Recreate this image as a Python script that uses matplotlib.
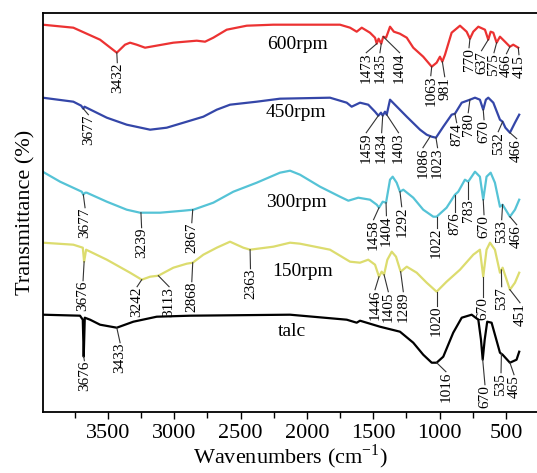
import numpy as np
import matplotlib
matplotlib.use("Agg")
import matplotlib.pyplot as plt

plt.rcParams['font.family'] = ['Liberation Serif', 'DejaVu Serif']
plt.rcParams['mathtext.fontset'] = 'custom'
plt.rcParams['mathtext.rm'] = 'Liberation Serif'

# ---- spectra (wavenumber, offset transmittance in arbitrary units) ----
w_600 = [3990, 3759, 3558, 3432, 3370, 3332, 3282, 3219, 3006, 2830, 2767, 2705, 2604, 2453, 2253,
         2127, 1751, 1675, 1625, 1587, 1525, 1487, 1474, 1460, 1440, 1425, 1404, 1390, 1374, 1345,
         1300, 1248, 1199, 1124, 1060, 1023, 998, 980, 960, 910, 847, 797, 772, 747, 709, 659,
         634, 616, 596, 571, 546, 508, 471, 446, 408]
t_600 = [387, 384, 372, 359, 367, 369, 367, 364, 369, 371, 370, 374, 382, 386, 387,
         387, 387, 384, 380, 384, 379, 374, 368, 373, 368, 375, 374, 379, 385, 380,
         378, 374, 364, 355, 345, 349, 355, 350, 357, 379, 386, 380, 373, 380, 385, 382,
         372, 380, 379, 369, 375, 370, 365, 367, 364]

w_450 = [3990, 3759, 3700, 3684, 3675, 3507, 3357, 3181, 3056, 2905, 2780, 2679, 2579, 2378, 2203,
         1826, 1700, 1663, 1600, 1538, 1487, 1462, 1442, 1429, 1412, 1399, 1374, 1337, 1248, 1148,
         1098, 1060, 1028, 973, 910, 885, 834, 772, 734, 697, 672, 652, 634, 596, 546, 526,
         505, 471, 433, 401]
t_450 = [314, 310, 306, 303, 305, 294, 287, 282, 284, 290, 295, 302, 307, 310, 313,
         314, 309, 305, 309, 307, 300, 296, 299, 296, 300, 297, 312, 307, 295, 282,
         277, 275, 274, 285, 297, 298, 309, 312, 314, 312, 302, 312, 314, 309, 292, 290,
         284, 279, 289, 297]

w_300 = [3990, 3859, 3696, 3684, 3670, 3658, 3507, 3357, 3257, 3106, 2931, 2855, 2705, 2554, 2378,
         2203, 2127, 2052, 1901, 1751, 1688, 1613, 1525, 1474, 1457, 1429, 1404, 1374, 1354, 1324,
         1299, 1274, 1199, 1124, 1048, 1023, 948, 885, 860, 810, 785, 734, 697, 672, 647, 616,
         584, 546, 526, 471, 433, 401]
t_300 = [240, 230, 220, 217, 219, 219, 210, 202, 199, 199, 201, 202, 209, 220, 229,
         239, 241, 237, 225, 215, 211, 214, 212, 207, 204, 210, 209, 232, 235, 229,
         220, 222, 214, 202, 195, 195, 204, 217, 220, 232, 230, 240, 235, 212, 235, 239,
         229, 205, 207, 195, 202, 212]

w_150 = [3990, 3759, 3688, 3678, 3663, 3507, 3332, 3244, 3181, 3119, 3006, 2905, 2860, 2780, 2679,
         2579, 2479, 2428, 2253, 2127, 2052, 1826, 1675, 1600, 1538, 1487, 1457, 1437, 1419, 1394,
         1361, 1329, 1294, 1248, 1173, 1098, 1023, 948, 847, 747, 697, 672, 647, 621, 584,
         546, 526, 471, 433, 401]
t_150 = [169, 167, 164, 150, 162, 152, 139, 132, 135, 136, 144, 148, 149, 157, 164,
         170, 164, 162, 165, 169, 168, 162, 150, 149, 152, 147, 135, 140, 137, 152,
         160, 155, 140, 145, 139, 129, 120, 130, 142, 157, 162, 135, 162, 169, 162,
         139, 144, 122, 129, 139]

w_talc = [3990, 3709, 3688, 3681, 3673, 3633, 3558, 3432, 3307, 3131, 2880, 2127, 1700, 1625, 1600,
          1450, 1299, 1199, 1124, 1060, 1023, 973, 898, 834, 759, 709, 689, 676, 661, 642,
          609, 546, 526, 471, 421, 401]
t_talc = [97, 96, 92, 55, 94, 92, 87, 84, 90, 95, 96, 97, 92, 89, 91,
          85, 80, 69, 57, 49, 49, 55, 79, 94, 97, 92, 72, 52, 72, 90,
          89, 59, 57, 49, 52, 60]

series_names = ['600rpm', '450rpm', '300rpm', '150rpm', 'talc']
series_w = [w_600, w_450, w_300, w_150, w_talc]
series_t = [t_600, t_450, t_300, t_150, t_talc]
series_colors = ['#ec3232', '#3446a8', '#55c3d6', '#dcdc6e', '#000000']
name_pos = [(2074, 367), (2081, 299), (2081, 209), (2029, 140), (2112, 80)]

# peak annotations: (text, peak wavenumber, text x, text top)
ann_600 = [('3432', 3432, 3428, 349), ('1473', 1474, 1553, 359), ('1435', 1440, 1450, 359),
           ('1404', 1425, 1302, 359), ('1063', 1060, 1067, 336), ('981', 980, 962, 335),
           ('770', 772, 779, 364), ('637', 634, 685, 361), ('575', 571, 591, 359),
           ('466', 471, 497, 358), ('415', 408, 403, 357)]
ann_450 = [('3677', 3684, 3646, 297), ('1459', 1462, 1553, 279), ('1434', 1429, 1437, 279),
           ('1403', 1399, 1310, 279), ('1086', 1070, 1126, 264), ('1023', 1028, 1016, 264),
           ('874', 885, 872, 289), ('780', 772, 785, 299), ('670', 672, 666, 292),
           ('532', 526, 559, 280), ('466', 471, 420, 273)]
ann_300 = [('3677', 3684, 3671, 204), ('3239', 3250, 3245, 184), ('2867', 2860, 2867, 189),
           ('1458', 1457, 1498, 192), ('1404', 1404, 1401, 196), ('1292', 1299, 1286, 205),
           ('1022', 1023, 1023, 184), ('876', 885, 885, 200), ('783', 785, 785, 213),
           ('670', 672, 666, 197), ('533', 526, 533, 192), ('466', 471, 420, 187)]
ann_150 = [('3676', 3678, 3686, 131), ('3242', 3244, 3279, 125), ('3113', 3119, 3038, 125),
           ('2868', 2860, 2867, 130), ('2363', 2428, 2425, 143), ('1446', 1457, 1487, 122),
           ('1405', 1419, 1387, 120), ('1289', 1294, 1274, 120), ('1020', 1023, 1023, 106),
           ('670', 672, 672, 115), ('537', 535, 533, 125), ('451', 471, 395, 109)]
ann_talc = [('3676', 3681, 3676, 51), ('3433', 3432, 3407, 69), ('1016', 1023, 953, 40),
            ('670', 676, 659, 27), ('535', 535, 538, 39), ('465', 471, 440, 37)]
series_ann = [ann_600, ann_450, ann_300, ann_150, ann_talc]

fig = plt.figure(figsize=(5.37, 4.73), dpi=100)
ax = fig.add_axes([0.0795, 0.1296, 1.0 - 0.0795, 0.9719 - 0.1296])

for name, ws, ts, col, npos, anns in zip(series_names, series_w, series_t, series_colors,
                                         name_pos, series_ann):
    ax.plot(ws, ts, color=col, lw=1.6, solid_joinstyle='round')
    ax.text(npos[0], npos[1], name, fontsize=14, ha='center', va='center')
    wa = np.array(ws)[::-1]
    ta = np.array(ts)[::-1]
    for txt, wp, wt, ytop in anns:
        yp = np.interp(wp, wa, ta)
        ax.plot([wp, wt], [yp, ytop], color='#333333', lw=0.8)
        ax.text(wt, ytop, txt, rotation=90, fontsize=11, ha='center', va='top')

ax.set_xlim(3990, 267)
ax.set_ylim(0, 398.4)
ax.set_yticks([])
ax.set_xticks([3500, 3000, 2500, 2000, 1500, 1000, 500])
ax.set_xticks(np.arange(3750, 300, -500), minor=True)
ax.tick_params(axis='x', which='major', direction='out', length=5, width=1, labelsize=16)
ax.tick_params(axis='x', which='minor', direction='out', length=4, width=1)
ax.spines['right'].set_visible(False)
for s in ['left', 'top', 'bottom']:
    ax.spines[s].set_linewidth(1.3)
ax.set_xlabel('Wavenumbers (cm$^{-1}$)', fontsize=16, labelpad=0)
ax.set_ylabel('Transmittance (%)', fontsize=16, labelpad=5)

fig.savefig('out.png', dpi=100)
